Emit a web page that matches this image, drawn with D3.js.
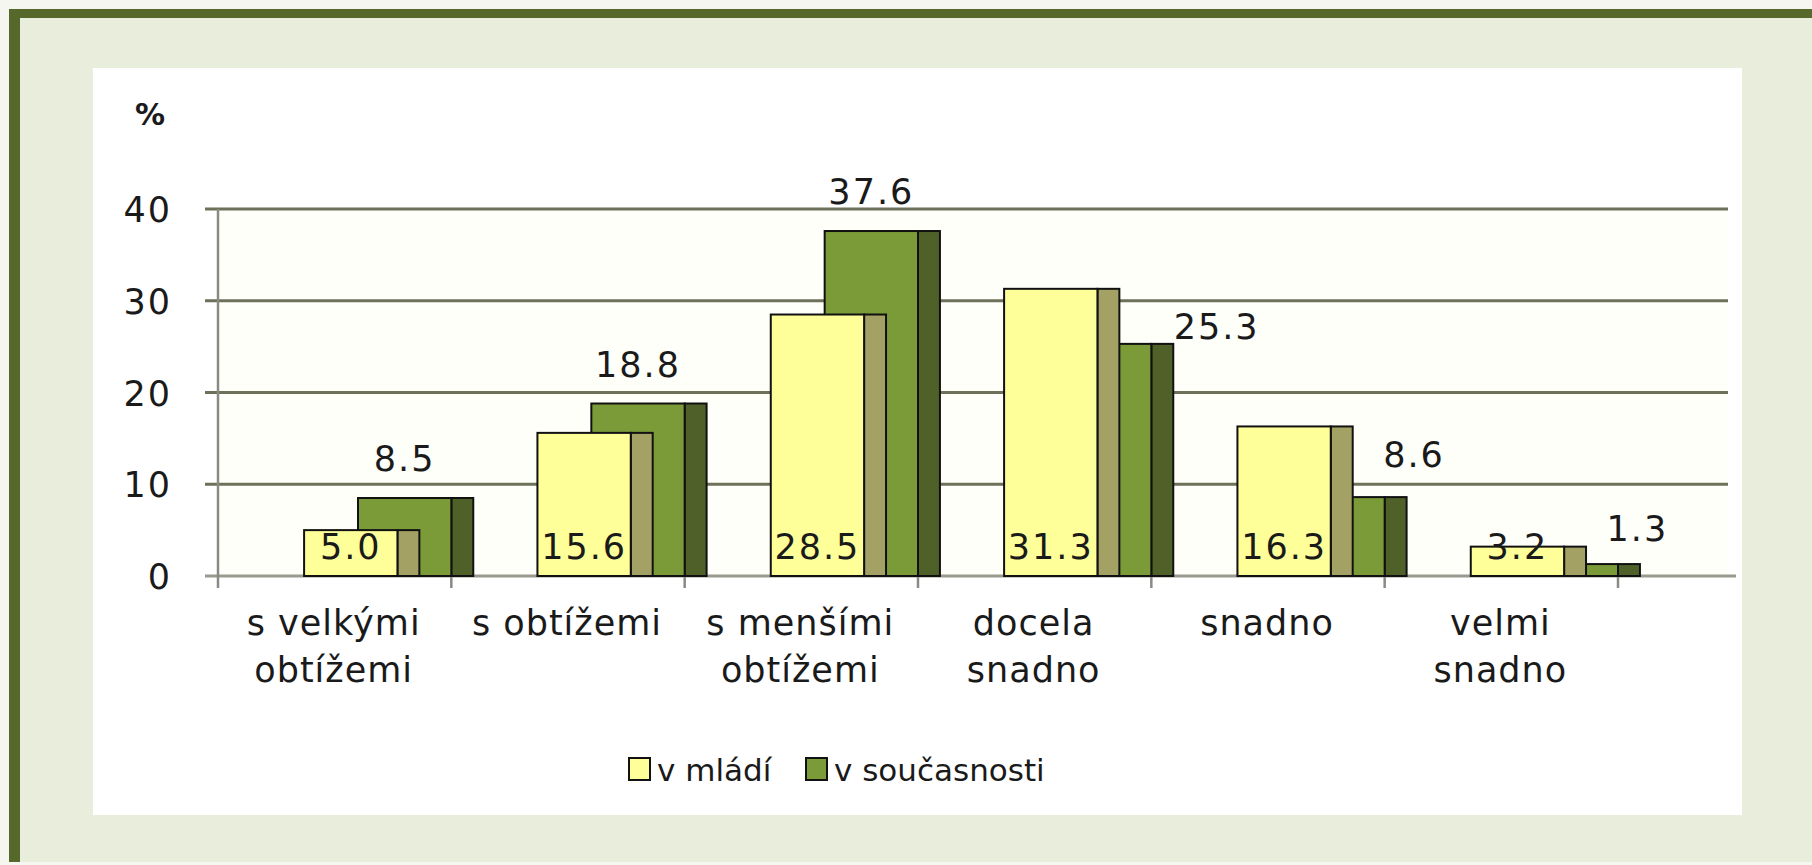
<!DOCTYPE html>
<html>
<head>
<meta charset="utf-8">
<script src="https://cdn.jsdelivr.net/npm/d3@7"></script>
<style>
  body { margin: 0; background: #f6f6f0; }
  svg { display: block; }
  text { font-family: "DejaVu Sans", Verdana, sans-serif; fill: #1a1a1a; }
</style>
</head>
<body>
<script>
// data
var categories = ["s velkými obtížemi", "s obtížemi", "s menšími obtížemi", "docela snadno", "snadno", "velmi snadno"];
var categoryLines = [["s velkými", "obtížemi"], ["s obtížemi"], ["s menšími", "obtížemi"], ["docela", "snadno"], ["snadno"], ["velmi", "snadno"]];
var vMladi = [5.0, 15.6, 28.5, 31.3, 16.3, 3.2];
var vSoucasnosti = [8.5, 18.8, 37.6, 25.3, 8.6, 1.3];
var seriesNames = ["v mládí", "v současnosti"];
var yTicks = [0, 10, 20, 30, 40];

// label nudges for the green labels when the yellow bar hides them
var greenLabelDx = [0, 0, 0, 112, 76, 66];
var greenLabelDy = [0, 0, 0, 22, -3, 4];

var W = 1812, H = 865;
var svg = d3.select("body").append("svg")
  .attr("width", W)
  .attr("height", H);

// frame
svg.append("rect").attr("x", 9).attr("y", 9).attr("width", W).attr("height", 853)
  .style("fill", "#56682a");
svg.append("rect").attr("x", 20).attr("y", 18).attr("width", W).attr("height", 844)
  .style("fill", "#e9eddc");
svg.append("rect").attr("x", 93).attr("y", 68).attr("width", 1649).attr("height", 747)
  .style("fill", "#ffffff");

var x = d3.scaleBand().domain(categories).range([218, 1618]).paddingInner(0).paddingOuter(0);
var y = d3.scaleLinear().domain([0, 40]).range([576, 209]);
var bw = x.bandwidth();
var wallRight = 1728;

// back wall tint
svg.append("rect").attr("x", 218).attr("y", y(40)).attr("width", wallRight - 218).attr("height", y(0) - y(40))
  .style("fill", "#fffffa");

// gridlines
svg.selectAll(".grid").data(yTicks.filter(function(d){ return d > 0; })).enter().append("line")
  .attr("x1", 205).attr("x2", wallRight)
  .attr("y1", function(d){ return y(d); })
  .attr("y2", function(d){ return y(d); })
  .style("stroke", "#6e705a")
  .style("stroke-width", 3);

// baseline and y axis
svg.append("line").attr("x1", 205).attr("x2", wallRight + 8).attr("y1", y(0)).attr("y2", y(0))
  .style("stroke", "#9a9a90").style("stroke-width", 3);
svg.append("line").attr("x1", 218).attr("x2", 218).attr("y1", y(40)).attr("y2", y(0) + 12)
  .style("stroke", "#8a8a84").style("stroke-width", 2.5);

// x tick marks at category boundaries
var bounds = categories.map(function(c){ return x(c); }).concat([x(categories[5]) + bw]);
svg.selectAll(".xtick").data(bounds.slice(1)).enter().append("line")
  .attr("x1", function(d){ return d; }).attr("x2", function(d){ return d; })
  .attr("y1", y(0)).attr("y2", y(0) + 12)
  .style("stroke", "#8a8a84").style("stroke-width", 2.5);

// y tick labels
svg.selectAll(".ylab").data(yTicks).enter().append("text")
  .attr("x", 172)
  .attr("y", function(d){ return y(d) + 13; })
  .attr("text-anchor", "end")
  .style("font-size", "35px")
  .style("letter-spacing", "2px")
  .text(function(d){ return d; });

svg.append("text").attr("x", 150).attr("y", 125).attr("text-anchor", "middle")
  .style("font-size", "30px").style("font-weight", "bold").text("%");

// 3D-ish bars: front face + darker side face
var sideW = bw * 0.094;
var frontW = bw * 0.4;
function drawBar(g, x0, v, front, side) {
  g.append("rect").attr("x", x0 + frontW).attr("y", y(v)).attr("width", sideW).attr("height", y(0) - y(v))
    .style("fill", side).style("stroke", "#111").style("stroke-width", 2);
  g.append("rect").attr("x", x0).attr("y", y(v)).attr("width", frontW).attr("height", y(0) - y(v))
    .style("fill", front).style("stroke", "#111").style("stroke-width", 2);
}

var bars = svg.selectAll(".cat").data(categories).enter().append("g");
bars.each(function(c, i){
  var g = d3.select(this);
  var start = x(c);
  drawBar(g, start + bw - frontW, vSoucasnosti[i], "#7b9a38", "#4f6128");
  drawBar(g, start + bw * 0.369, vMladi[i], "#ffff99", "#a3a163");
});

// value labels
svg.selectAll(".lab1").data(vMladi).enter().append("text")
  .attr("x", function(d, i){ return x(categories[i]) + bw * 0.369 + frontW / 2; })
  .attr("y", y(0) - 17)
  .attr("text-anchor", "middle")
  .style("font-size", "35px")
  .style("letter-spacing", "2px")
  .text(function(d){ return d.toFixed(1); });

svg.selectAll(".lab2").data(vSoucasnosti).enter().append("text")
  .attr("x", function(d, i){ return x(categories[i]) + bw - frontW / 2 + greenLabelDx[i]; })
  .attr("y", function(d, i){ return y(d) - 27 + greenLabelDy[i]; })
  .attr("text-anchor", "middle")
  .style("font-size", "35px")
  .style("letter-spacing", "2px")
  .text(function(d){ return d.toFixed(1); });

// category labels
svg.selectAll(".xlab").data(categories).enter().append("text")
  .attr("text-anchor", "middle")
  .attr("x", function(c){ return x(c) + bw / 2 - 1; })
  .attr("y", 635)
  .style("font-size", "35px")
  .style("letter-spacing", "1px")
  .each(function(c, i){
    var t = d3.select(this);
    categoryLines[i].forEach(function(line, k){
      t.append("tspan").attr("x", x(c) + bw / 2 - 1).attr("dy", k === 0 ? 0 : 47).text(line);
    });
  });

// legend
var legendX = [629, 806];
var legendColors = ["#ffff99", "#7b9a38"];
var leg = svg.selectAll(".leg").data(seriesNames).enter().append("g");
leg.append("rect")
  .attr("x", function(d, i){ return legendX[i]; })
  .attr("y", 758).attr("width", 21).attr("height", 22)
  .style("fill", function(d, i){ return legendColors[i]; })
  .style("stroke", "#111").style("stroke-width", 2);
leg.append("text")
  .attr("x", function(d, i){ return legendX[i] + 28; })
  .attr("y", 781)
  .style("font-size", "31px")
  .text(function(d){ return d; });
</script>
</body>
</html>
